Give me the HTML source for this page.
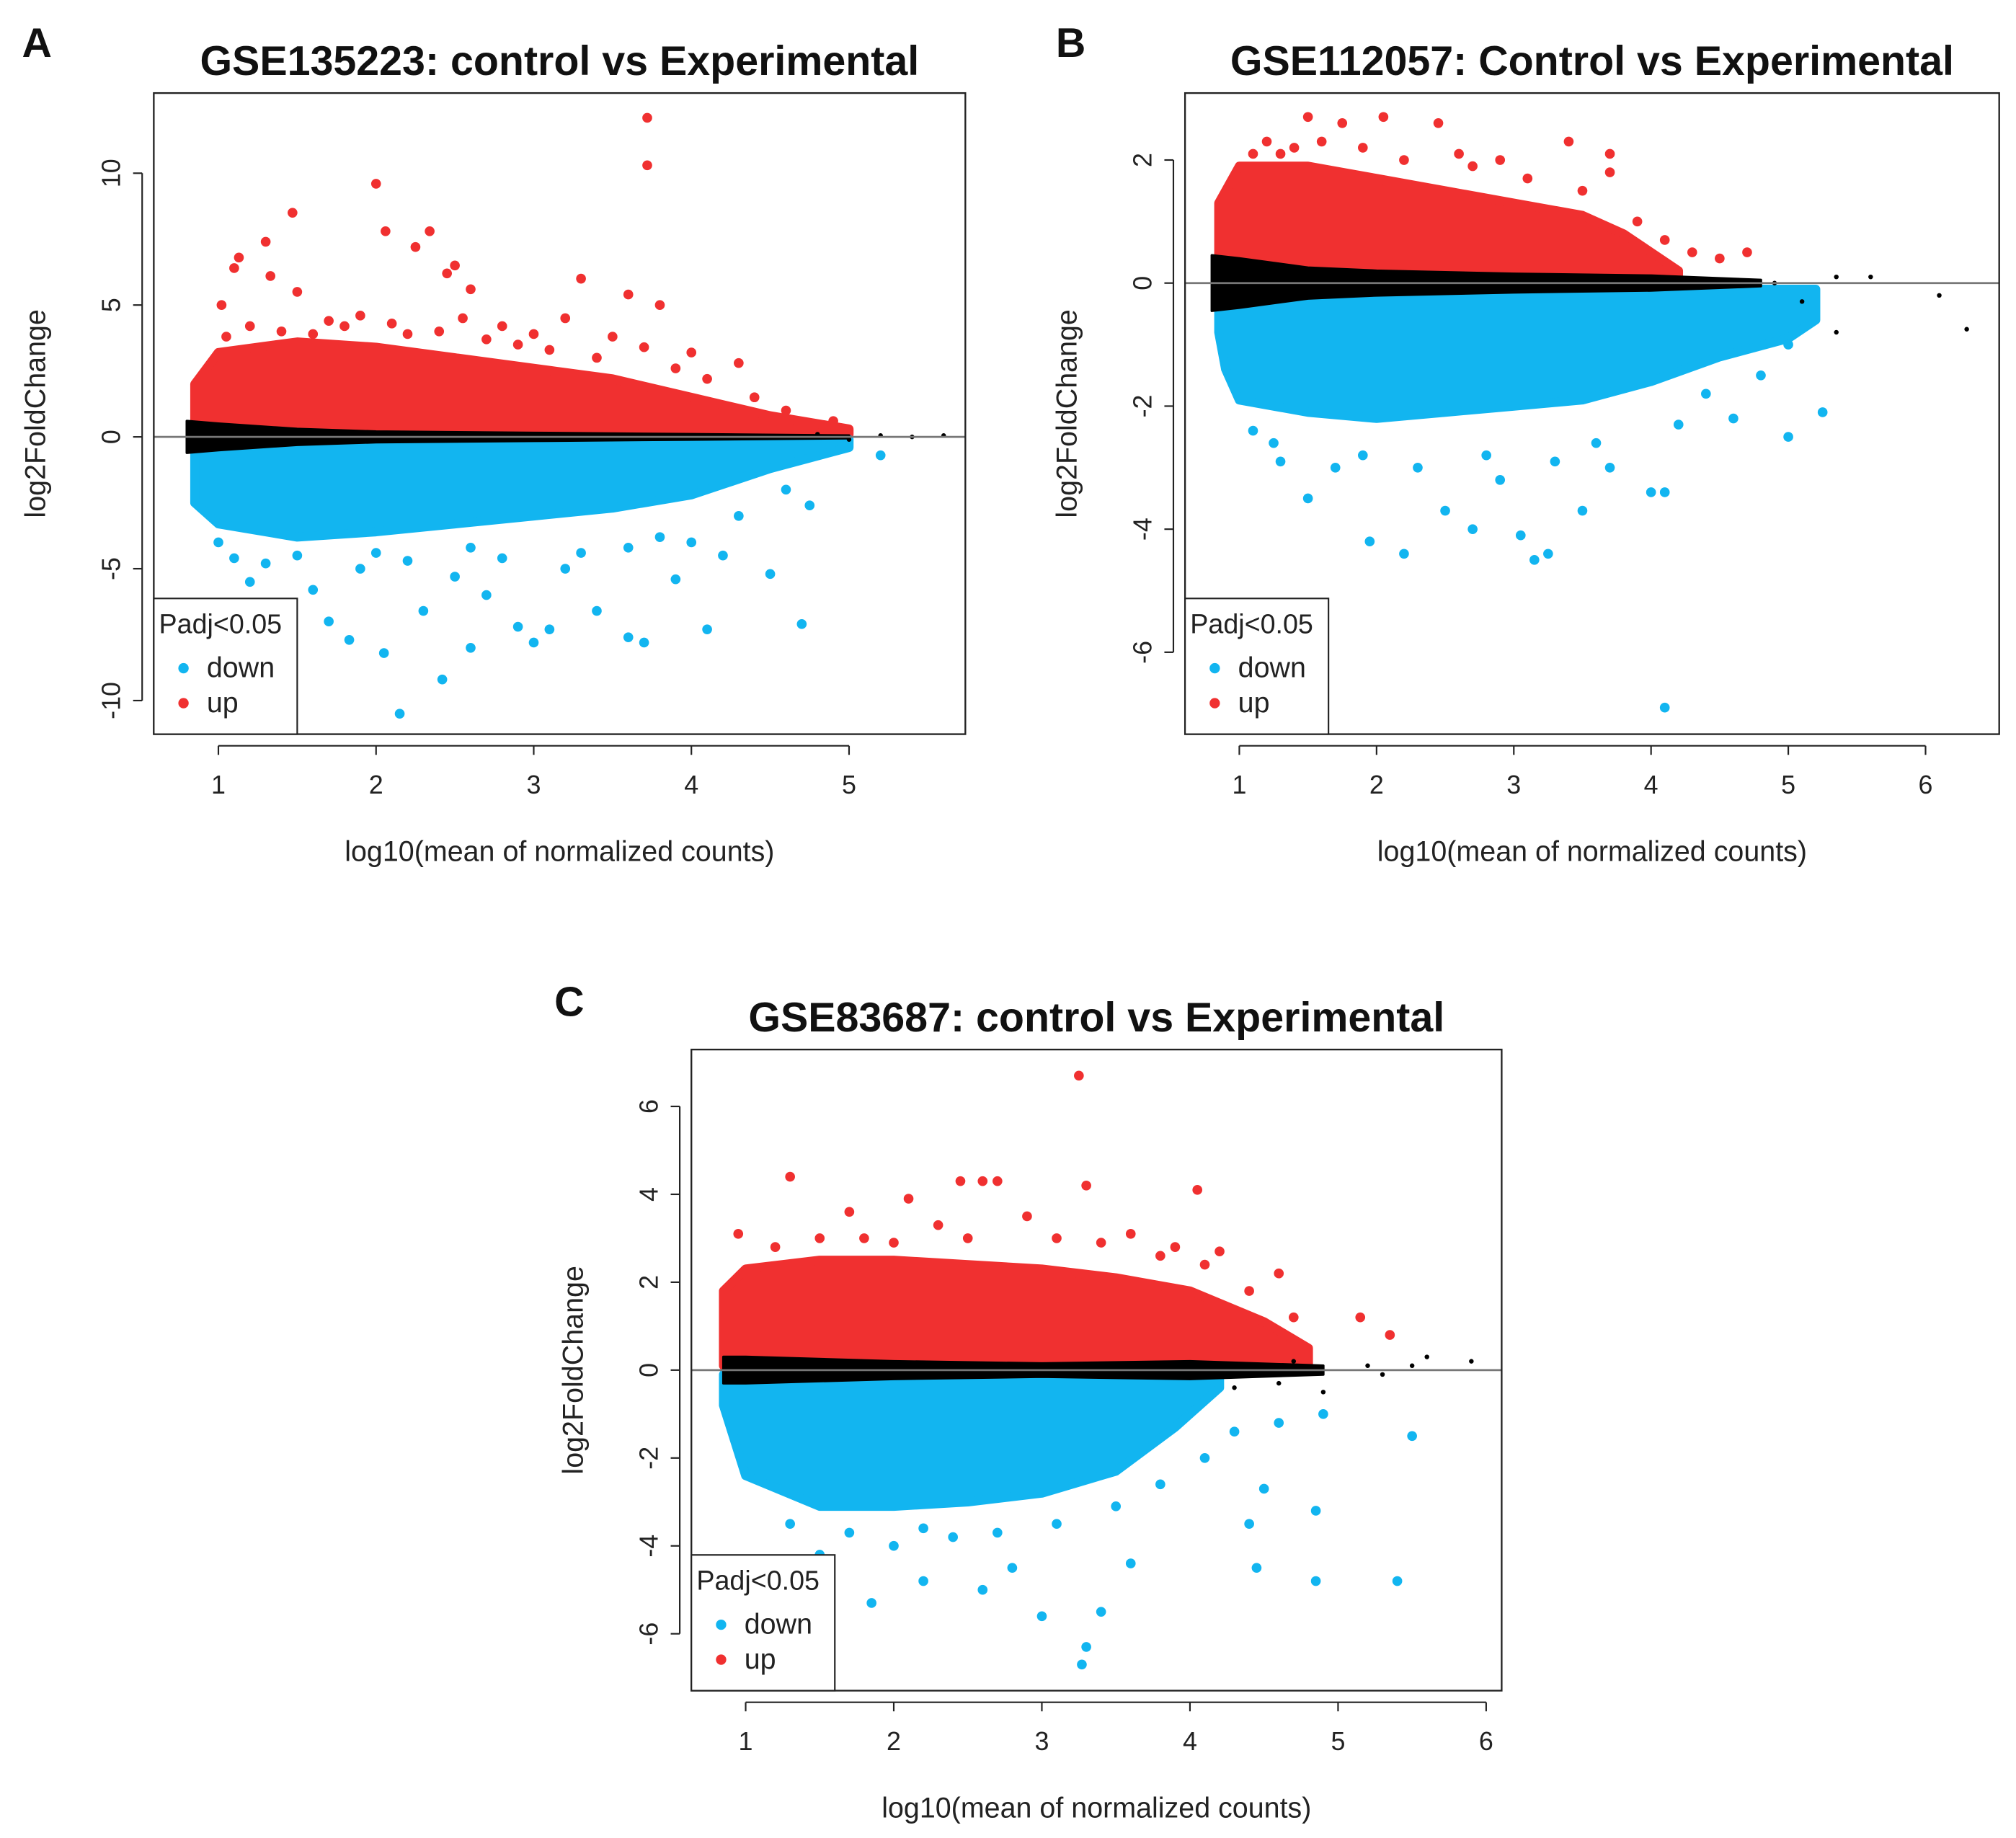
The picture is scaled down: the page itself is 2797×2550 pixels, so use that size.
<!DOCTYPE html>
<html><head><meta charset="utf-8"><style>
html,body{margin:0;padding:0;background:#fff;}
svg{display:block;font-family:"Liberation Sans",sans-serif;}
</style></head><body>
<svg id="fig" width="2797" height="2550" viewBox="0 0 1560 1422" preserveAspectRatio="none" xmlns="http://www.w3.org/2000/svg"></svg>
<script>
// ---------- Panel A data ----------
const aXTicks=[1,2,3,4,5];
const aYTicks=[-10,-5,0,5,10];
const aRedEnvX=[0.85,1,1.5,2,2.5,3,3.5,4,4.5,5];
const aRedEnvY=[2,3.2,3.6,3.4,3,2.6,2.2,1.5,0.8,0.3];
const aBlueEnvX=[0.85,1,1.5,2,2.5,3,3.5,4,4.5,5];
const aBlueEnvY=[-2.5,-3.3,-3.8,-3.6,-3.3,-3,-2.7,-2.2,-1.2,-0.4];
const aBlackEnvX=[0.8,1,1.5,2,3,4,5];
const aBlackEnvY=[0.6,0.5,0.3,0.2,0.15,0.1,0.05];
const aRedPts=[[3.72,12.1],[3.72,10.3],[2,9.6],[1.47,8.5],[2.06,7.8],[2.34,7.8],[1.3,7.4],[2.25,7.2],[1.13,6.8],[1.33,6.1],[1.1,6.4],[2.5,6.5],[2.45,6.2],[3.3,6],[1.5,5.5],[2.6,5.6],[3.6,5.4],[3.8,5],[1.02,5],[2.8,4.2],[4.3,2.8],[3.2,4.5],[1.7,4.4],[2.4,4],[3.5,3.8],[4.0,3.2],[1.2,4.2],[2.9,3.5],[1.9,4.6],[1.4,4.0],[1.6,3.9],[1.8,4.2],[2.1,4.3],[2.2,3.9],[2.7,3.7],[3.0,3.9],[3.1,3.3],[3.4,3.0],[3.7,3.4],[3.9,2.6],[4.1,2.2],[4.4,1.5],[4.6,1.0],[4.9,0.6],[1.05,3.8],[2.55,4.5]];
const aBluePts=[[2.15,-10.5],[2.42,-9.2],[2.05,-8.2],[1.83,-7.7],[2.6,-8],[3,-7.8],[3.7,-7.8],[3.6,-7.6],[4.1,-7.3],[4.7,-7.1],[1.7,-7],[3.1,-7.3],[1.4,-6.5],[2.3,-6.6],[2.9,-7.2],[3.4,-6.6],[4.5,-5.2],[4.75,-2.6],[5.2,-0.7],[2.7,-6],[1.2,-5.5],[3.9,-5.4],[4.2,-4.5],[1.6,-5.8],[2.5,-5.3],[3.2,-5.0],[4.0,-4.0],[1.1,-4.6],[1.3,-4.8],[1.5,-4.5],[1.9,-5.0],[2.2,-4.7],[2.8,-4.6],[3.3,-4.4],[3.6,-4.2],[3.8,-3.8],[4.3,-3.0],[4.6,-2.0],[1.0,-4.0],[2.0,-4.4],[2.6,-4.2]];
const aBlackPts=[[4.8,0.1],[5.0,-0.1],[5.2,0.05],[5.4,0],[5.6,0.05]];
// ---------- Panel B data ----------
const bXTicks=[1,2,3,4,5,6];
const bYTicks=[-6,-4,-2,0,2];
const bRedEnvX=[0.85,1,1.5,2,2.5,3,3.5,3.8,4.2];
const bRedEnvY=[1.3,1.9,1.9,1.7,1.5,1.3,1.1,0.8,0.2];
const bBlueEnvX=[0.85,0.9,1,1.5,2,2.5,3,3.5,4,4.5,5,5.2];
const bBlueEnvY=[-0.8,-1.4,-1.9,-2.1,-2.2,-2.1,-2,-1.9,-1.6,-1.2,-0.9,-0.6];
const bBlackEnvX=[0.8,1,1.5,2,3,4,4.8];
const bBlackEnvY=[0.45,0.4,0.25,0.2,0.15,0.12,0.05];
const bRedPts=[[1.5,2.7],[2.05,2.7],[1.75,2.6],[2.45,2.6],[1.2,2.3],[3.7,2.1],[1.9,2.2],[2.9,2.0],[3.4,2.3],[3.7,1.8],[4.7,0.5],[4.5,0.4],[1.3,2.1],[2.6,2.1],[1.1,2.1],[1.4,2.2],[2.2,2.0],[2.7,1.9],[3.1,1.7],[3.5,1.5],[3.9,1.0],[4.1,0.7],[4.3,0.5],[1.6,2.3]];
const bBluePts=[[4.1,-6.9],[2.2,-4.4],[3.15,-4.5],[3.25,-4.4],[1.95,-4.2],[2.7,-4],[3.05,-4.1],[3.5,-3.7],[1.5,-3.5],[4.0,-3.4],[4.1,-3.4],[5.0,-2.5],[5.25,-2.1],[1.25,-2.6],[2.5,-3.7],[4.6,-2.2],[5.0,-1.0],[1.7,-3.0],[2.9,-3.2],[3.7,-3.0],[1.3,-2.9],[1.9,-2.8],[2.3,-3.0],[2.8,-2.8],[3.3,-2.9],[3.6,-2.6],[4.2,-2.3],[4.4,-1.8],[4.8,-1.5],[1.1,-2.4]];
const bBlackPts=[[6.1,-0.2],[6.3,-0.75],[5.35,-0.8],[5.35,0.1],[5.6,0.1],[4.9,0],[5.1,-0.3],[0.82,-0.3],[0.85,0.4]];
// ---------- Panel C data ----------
const cXTicks=[1,2,3,4,5,6];
const cYTicks=[-6,-4,-2,0,2,4,6];
const cRedEnvX=[0.85,1,1.5,2,2.5,3,3.5,4,4.5,4.8];
const cRedEnvY=[1.8,2.3,2.5,2.5,2.4,2.3,2.1,1.8,1.1,0.5];
const cBlueEnvX=[0.85,1,1.5,2,2.5,3,3.5,3.9,4.2];
const cBlueEnvY=[-0.8,-2.4,-3.1,-3.1,-3,-2.8,-2.3,-1.3,-0.4];
const cBlackEnvX=[0.85,1,2,3,4,4.9];
const cBlackEnvY=[0.3,0.3,0.2,0.15,0.2,0.1];
const cRedPts=[[3.25,6.7],[1.3,4.4],[3.3,4.2],[2.45,4.3],[2.6,4.3],[2.7,4.3],[4.05,4.1],[1.7,3.6],[2.1,3.9],[2.3,3.3],[3.6,3.1],[3.9,2.8],[4.2,2.7],[5.15,1.2],[5.35,0.8],[4.6,2.2],[0.95,3.1],[1.5,3.0],[2.9,3.5],[1.2,2.8],[1.8,3.0],[2.0,2.9],[2.5,3.0],[3.1,3.0],[3.4,2.9],[3.8,2.6],[4.4,1.8],[4.7,1.2],[4.1,2.4]];
const cBluePts=[[3.27,-6.7],[3.3,-6.3],[3.0,-5.6],[3.4,-5.5],[1.85,-5.3],[2.6,-5.0],[2.2,-4.8],[5.4,-4.8],[4.85,-4.8],[4.45,-4.5],[1.5,-4.2],[2.8,-4.5],[3.6,-4.4],[4.4,-3.5],[4.85,-3.2],[5.5,-1.5],[4.5,-2.7],[4.9,-1.0],[2.0,-4.0],[2.4,-3.8],[1.3,-3.5],[1.7,-3.7],[2.2,-3.6],[2.7,-3.7],[3.1,-3.5],[3.5,-3.1],[3.8,-2.6],[4.1,-2.0],[4.3,-1.4],[4.6,-1.2]];
const cBlackPts=[[5.6,0.3],[5.9,0.2],[5.5,0.1],[5.2,0.1],[5.3,-0.1],[4.9,-0.5],[4.3,-0.4],[4.6,-0.3],[4.7,0.2]];

const RED='#f03030',BLUE='#12b5f0',BLACK='#000';
const NS='http://www.w3.org/2000/svg';
const svg=document.getElementById('fig');
function el(tag,attrs,parent){const e=document.createElementNS(NS,tag);for(const k in attrs)e.setAttribute(k,attrs[k]);(parent||svg).appendChild(e);return e;}

function panel(c){
  const g=el('g',{});
  
  
  const sx=v=>c.x0+(v-c.xv0)*c.xs;
  const sy=v=>c.y0-(v)*c.ys;
  const clip=el('clipPath',{id:c.name+'-clip'},g);
  el('rect',{x:c.L,y:c.T,width:c.R-c.L,height:c.B-c.T},clip);
  const pg=el('g',{'clip-path':'url(#'+c.name+'-clip)'},g);
  function band(xs,ys,color,nm){
    let pts=[];
    for(let i=0;i<xs.length;i++)pts.push(sx(xs[i])+','+sy(ys[i]));
    for(let i=xs.length-1;i>=0;i--)pts.push(sx(xs[i])+','+sy(ys[i]>0?0.1:-0.1));
    const p=el('polygon',{points:pts.join(' '),fill:color,stroke:color,'stroke-width':7,'stroke-linejoin':'round'},pg);
    
    
  }
  band(c.redX,c.redY,RED,'up-cloud');
  band(c.blueX,c.blueY,BLUE,'down-cloud');
  let bp=[];
  for(let i=0;i<c.blkX.length;i++)bp.push(sx(c.blkX[i])+','+sy(c.blkY[i]));
  for(let i=c.blkX.length-1;i>=0;i--)bp.push(sx(c.blkX[i])+','+sy(-c.blkY[i]));
  const bk=el('polygon',{points:bp.join(' '),fill:BLACK,stroke:BLACK,'stroke-width':2,'stroke-linejoin':'round'},pg);
  
  
  function dots(arr,color,r,nm){arr.forEach(p=>{const d=el('circle',{cx:sx(p[0]),cy:sy(p[1]),r:r,fill:color},pg);
    
    });}
  dots(c.redPts,RED,3.8,'up-point');
  dots(c.bluePts,BLUE,3.8,'down-point');
  dots(c.blkPts,BLACK,1.8,'nonsig-point');
  const zl=el('line',{x1:c.L,x2:c.R,y1:sy(0),y2:sy(0),stroke:'#777','stroke-width':1.5},g);
  
  
  const box=el('rect',{x:c.L,y:c.T,width:c.R-c.L,height:c.B-c.T,fill:'none',stroke:'#222','stroke-width':1.3},g);
  
  
  const xa=c.xt[0],xb=c.xt[c.xt.length-1];
  el('line',{x1:sx(xa),x2:sx(xb),y1:c.B+9,y2:c.B+9,stroke:'#222','stroke-width':1.2},g);
  c.xt.forEach(t=>{el('line',{x1:sx(t),x2:sx(t),y1:c.B+9,y2:c.B+16,stroke:'#222','stroke-width':1.2},g);
    const tx=el('text',{x:sx(t),y:c.B+46,'font-size':20,'text-anchor':'middle',fill:'#222'},g);tx.textContent=t;
    
    });
  const ya=c.yt[0],yb=c.yt[c.yt.length-1];
  el('line',{x1:c.L-9,x2:c.L-9,y1:sy(ya),y2:sy(yb),stroke:'#222','stroke-width':1.2},g);
  c.yt.forEach(t=>{el('line',{x1:c.L-9,x2:c.L-16,y1:sy(t),y2:sy(t),stroke:'#222','stroke-width':1.2},g);
    const tx=el('text',{x:c.L-26,y:sy(t),'font-size':20,'text-anchor':'middle',fill:'#222',transform:'rotate(-90 '+(c.L-26)+' '+sy(t)+')'},g);tx.textContent=t;
    
    });
  const xt=el('text',{x:(c.L+c.R)/2,y:c.B+98,'font-size':22,'text-anchor':'middle',fill:'#222'},g);xt.textContent='log10(mean of normalized counts)';
  
  
  const ymid=(c.T+c.B)/2, yx=c.L-84;
  const yt=el('text',{x:yx,y:ymid,'font-size':22,'text-anchor':'middle',fill:'#222',transform:'rotate(-90 '+yx+' '+ymid+')'},g);yt.textContent='log2FoldChange';
  
  
  const ti=el('text',{x:(c.L+c.R)/2,y:c.T-14,'font-size':32,'font-weight':'bold','text-anchor':'middle',fill:'#111'},g);ti.textContent=c.title;
  
  
  const lt=el('text',{x:c.lx,y:c.ly,'font-size':32,'font-weight':'bold',fill:'#111'},g);lt.textContent=c.letter;
  
  
  const lg=el('g',{},g);
  
  
  const lT=c.B-105;
  el('rect',{x:c.L,y:lT,width:111,height:105,fill:'#fff',stroke:'#222','stroke-width':1.2},lg);
  const t1=el('text',{x:c.L+4,y:lT+27,'font-size':21,fill:'#222'},lg);t1.textContent='Padj<0.05';
  el('circle',{cx:c.L+23,cy:lT+54,r:4,fill:BLUE},lg);
  const t2=el('text',{x:c.L+41,y:lT+61,'font-size':22,fill:'#222'},lg);t2.textContent='down';
  
  
  el('circle',{cx:c.L+23,cy:lT+81,r:4,fill:RED},lg);
  const t3=el('text',{x:c.L+41,y:lT+88,'font-size':22,fill:'#222'},lg);t3.textContent='up';
  
  
}
panel({name:'panel-a',L:119,R:747,T:72,B:568,x0:169,xv0:1,xs:122,y0:338,ys:20.4,xt:aXTicks,yt:aYTicks,
  redX:aRedEnvX,redY:aRedEnvY,blueX:aBlueEnvX,blueY:aBlueEnvY,blkX:aBlackEnvX,blkY:aBlackEnvY,
  redPts:aRedPts,bluePts:aBluePts,blkPts:aBlackPts,title:'GSE135223: control vs Experimental',letter:'A',lx:17,ly:44});
panel({name:'panel-b',L:917,R:1547,T:72,B:568,x0:959,xv0:1,xs:106.2,y0:219,ys:47.6,xt:bXTicks,yt:bYTicks,
  redX:bRedEnvX,redY:bRedEnvY,blueX:bBlueEnvX,blueY:bBlueEnvY,blkX:bBlackEnvX,blkY:bBlackEnvY,
  redPts:bRedPts,bluePts:bBluePts,blkPts:bBlackPts,title:'GSE112057: Control vs Experimental',letter:'B',lx:817,ly:44});
panel({name:'panel-c',L:535,R:1162,T:812,B:1308,x0:577,xv0:1,xs:114.6,y0:1060,ys:34,xt:cXTicks,yt:cYTicks,
  redX:cRedEnvX,redY:cRedEnvY,blueX:cBlueEnvX,blueY:cBlueEnvY,blkX:cBlackEnvX,blkY:cBlackEnvY,
  redPts:cRedPts,bluePts:cBluePts,blkPts:cBlackPts,title:'GSE83687: control vs Experimental',letter:'C',lx:429,ly:786});
</script>
</body></html>
